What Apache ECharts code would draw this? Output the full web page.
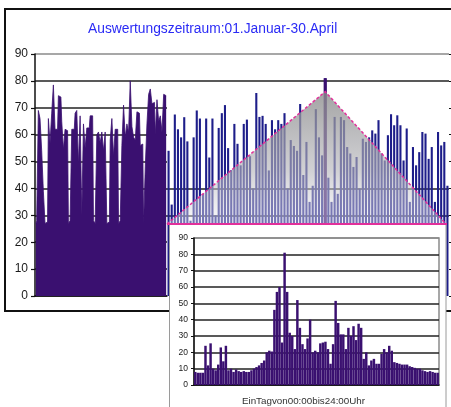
<!DOCTYPE html>
<html>
<head>
<meta charset="utf-8">
<script src="https://cdn.jsdelivr.net/npm/echarts/dist/echarts.min.js"></script>
<style>
html,body{margin:0;padding:0;background:#fff;}
#chart{width:451px;height:407px;}
</style>
</head>
<body>
<div id="chart"></div>
<script>
// ---------- data ----------
const titleText = 'Auswertungszeitraum:01.Januar-30.April';
const insetAxisName = 'EinTagvon00:00bis24:00Uhr';
const yTickLabels = ['0','10','20','30','40','50','60','70','80','90'];

// first segment of the period (dense purple bars)
const januaryFebruaryValues = [
  27, 28, 69, 66, 54, 39, 27, 27.5, 66, 57,
  68, 78.5, 62, 62, 74.5, 74, 65, 54.5, 62, 61.5,
  27, 28, 62, 62, 68, 69, 49, 67, 30, 64,
  55, 62.5, 62.5, 67, 67, 28, 27, 60, 61, 57,
  61, 54, 61, 27, 27.5, 58, 66, 52, 62, 62,
  27, 28, 56, 71, 59, 64, 61, 80, 63, 59,
  58, 68.5, 68, 56, 56.5, 27, 48, 64, 75, 77,
  71.5, 72, 60, 73, 65, 67, 61, 75, 74.5
];

// second segment of the period (thin navy bars)
const marchAprilValues = [
  54, 34, 67.5, 62, 59, 66.5, 57.5, 28, 59, 69,
  66, 38, 66, 51.5, 66, 30, 62.5, 68, 71, 55,
  46.8, 64, 56.6, 48.6, 64, 65.6, 52, 40, 75.5, 66.6,
  67, 64, 46.7, 65.4, 62, 65.4, 64, 68, 40, 58,
  55.8, 54, 71.4, 45, 57.3, 35, 41, 69.5, 59, 52.3,
  81, 44, 35, 66.6, 38, 66.6, 65.4, 55.4, 53, 48,
  51.7, 40, 58.5, 57.3, 59, 61.6, 60.4, 65.4, 53, 50.4,
  59.8, 67.6, 63.5, 67.2, 63.5, 50.4, 62.3, 35, 55.4, 48.6,
  53.5, 61, 60.4, 51, 55.4, 35, 61, 56, 57.3, 41
];
const peakDayIndex = 50;     // the day shown in the inset
const zoomApexValue = 76;    // where the zoom triangle meets the peak bar

// inset: one day in 15-minute steps (96 values)
const dayProfileValues = [
  8, 7.5, 7.5, 7.5, 24, 12, 25.5, 10, 9, 12.5,
  23, 14.5, 24, 9, 10, 8, 9.5, 8.5, 8, 8.5,
  8, 8, 9, 10, 11, 12, 13.5, 15, 20, 21,
  20.5, 46, 57, 60, 26, 81, 57, 32, 30, 22,
  52, 35, 25, 22, 28.5, 40, 20, 21, 20, 25.5,
  26, 26.5, 22, 13, 25, 51.5, 38, 31, 31, 22,
  35, 30, 36, 27.5, 37.5, 35, 16, 20, 12, 15,
  16, 13, 13, 19, 22, 20, 24, 21, 14, 13.5,
  13, 12.5, 12.5, 12.5, 11.5, 11, 10.5, 10, 10, 9,
  8.5, 8, 8.5, 8, 7.5, 7.5
];

// ---------- derived categories ----------
const catsA = januaryFebruaryValues.map((v, i) => 'A' + (i + 1));
const catsB = marchAprilValues.map((v, i) => 'B' + (i + 1));
const timeCats = dayProfileValues.map((v, i) => {
  const m = i * 15;
  return String(Math.floor(m / 60)).padStart(2, '0') + ':' + String(m % 60).padStart(2, '0');
});
const peakSeriesData = marchAprilValues.map((v, i) => i === peakDayIndex ? v : '-');

// ---------- styles / layout ----------
const FONT = '"Liberation Sans", Arial, sans-serif';
const PURPLE = '#3a1070';
const NAVY = '#1e1e8a';
const GRID = '#222';
const GRID_TOP = '#8a8a8a';
const T = 'rgba(0,0,0,0)';
const MAGENTA = '#e2309a';

const chart = echarts.init(document.getElementById('chart'), null, {renderer: 'canvas'});

const option = {
  animation: false,
  backgroundColor: '#fff',
  title: {
    text: titleText,
    left: 88, top: 22, padding: 0,
    textStyle: {color: '#2b2bf5', fontSize: 13.8, fontWeight: 'normal', fontFamily: FONT}
  },
  grid: [
    {left: 35, top: 54, width: 132, height: 242},
    {left: 167, top: 54, width: 282, height: 242},
    {left: 194, top: 238, width: 245, height: 155, show: true, backgroundColor: '#fff',
     borderColor: '#8a8a8a', borderWidth: 1.5, zlevel: 1, z: 2}
  ],
  xAxis: [
    {type: 'category', gridIndex: 0, data: catsA, boundaryGap: true,
     axisLine: {lineStyle: {color: '#111', width: 1.5}}, axisTick: {show: false}, axisLabel: {show: false}},
    {type: 'category', gridIndex: 1, data: catsB, show: false},
    {type: 'category', gridIndex: 1, data: catsB, show: false},
    {type: 'category', gridIndex: 2, data: timeCats, zlevel: 1, z: 3,
     axisLine: {lineStyle: {color: '#111', width: 1.5}}, axisTick: {show: false}, axisLabel: {show: false},
     name: insetAxisName, nameLocation: 'middle', nameGap: 11,
     nameTextStyle: {fontSize: 9.8, color: '#333', fontFamily: FONT, padding: [0, 26, 0, 0]}}
  ],
  yAxis: [
    {type: 'value', gridIndex: 0, min: 0, max: 90, interval: 10,
     axisLine: {show: true, lineStyle: {color: '#111', width: 1.5}},
     axisTick: {show: true, length: 4, lineStyle: {color: '#111', width: 1.2}},
     axisLabel: {color: '#1a1a1a', fontSize: 12, fontFamily: FONT, margin: 7,
                 formatter: (v) => yTickLabels[Math.round(v / 10)]},
     splitLine: {show: true, showMinLine: true, showMaxLine: true,
                 lineStyle: {width: 1.6, color: [GRID, GRID, GRID, GRID, GRID, GRID, GRID, GRID, GRID, GRID_TOP]}}},
    {type: 'value', gridIndex: 1, min: 0, max: 90, interval: 10, position: 'right',
     axisLine: {show: false},
     axisTick: {show: true, length: 3, lineStyle: {color: '#111', width: 1.2}},
     axisLabel: {show: false},
     splitLine: {show: true, showMinLine: true, showMaxLine: true,
                 lineStyle: {width: 1.6, color: [T, T, T, GRID, GRID, T, T, T, GRID, GRID_TOP]}}},
    {type: 'value', gridIndex: 2, min: 0, max: 90, interval: 10, zlevel: 1, z: 3,
     axisLine: {show: true, lineStyle: {color: '#111', width: 1.5}},
     axisTick: {show: true, length: 3, lineStyle: {color: '#111', width: 1}},
     axisLabel: {color: '#1a1a1a', fontSize: 8.5, fontFamily: FONT, margin: 6,
                 formatter: (v) => yTickLabels[Math.round(v / 10)]},
     splitLine: {show: true, showMinLine: true, showMaxLine: true,
                 lineStyle: {width: 1.5, color: [GRID, GRID, GRID, GRID, GRID, GRID, GRID, GRID, GRID, GRID_TOP]}}}
  ],
  series: [
    {name: 'Jan-Feb', type: 'line', xAxisIndex: 0, yAxisIndex: 0, data: januaryFebruaryValues,
     step: 'middle', symbol: 'none', lineStyle: {color: PURPLE, width: 0.8},
     areaStyle: {color: PURPLE, opacity: 1}},
    {name: 'Mar-Apr', type: 'bar', xAxisIndex: 1, yAxisIndex: 1, data: marchAprilValues,
     barWidth: 2.1, itemStyle: {color: NAVY}},
    {name: 'Peak day', type: 'bar', xAxisIndex: 2, yAxisIndex: 1, data: peakSeriesData,
     barWidth: 3.2, itemStyle: {color: PURPLE}},
    {name: 'Tagesprofil', type: 'bar', xAxisIndex: 3, yAxisIndex: 2, data: dayProfileValues,
     barCategoryGap: '4%', itemStyle: {color: PURPLE}, zlevel: 1, z: 4}
  ]
};
chart.setOption(option);

// zoom annotation: triangle from the peak day down to the inset
const apex = chart.convertToPixel({gridIndex: 1}, [peakDayIndex, zoomApexValue]);
const insetTop = 224, triLeft = 167, triRight = 446;
chart.setOption({
  graphic: [
    {type: 'rect', zlevel: 0, z: 1, silent: true,
     shape: {x: 5, y: 9, width: 500, height: 302},
     style: {fill: 'none', stroke: '#111', lineWidth: 2}},
    {type: 'polygon', zlevel: 0, z: 10, silent: true,
     shape: {points: [[triLeft, insetTop], apex, [triRight, insetTop]]},
     style: {fill: new echarts.graphic.LinearGradient(0, 0, 0, 1, [
       {offset: 0, color: 'rgba(140,140,140,0.8)'},
       {offset: 0.6, color: 'rgba(180,180,186,0.62)'},
       {offset: 1, color: 'rgba(235,235,242,0.42)'}
     ])}},
    {type: 'polyline', zlevel: 0, z: 11, silent: true,
     shape: {points: [[triLeft, insetTop], apex, [triRight, insetTop]]},
     style: {stroke: MAGENTA, lineWidth: 1.5, lineDash: [3, 2], fill: 'none'}},
    {type: 'rect', zlevel: 1, z: 1, silent: true,
     shape: {x: 169.5, y: insetTop, width: 276.5, height: 200},
     style: {fill: '#fff', stroke: '#9a9a9a', lineWidth: 1}},
    {type: 'line', zlevel: 1, z: 10, silent: true,
     shape: {x1: triLeft, y1: insetTop, x2: triRight + 1, y2: insetTop},
     style: {stroke: MAGENTA, lineWidth: 2}}
  ]
});
</script>
</body>
</html>
